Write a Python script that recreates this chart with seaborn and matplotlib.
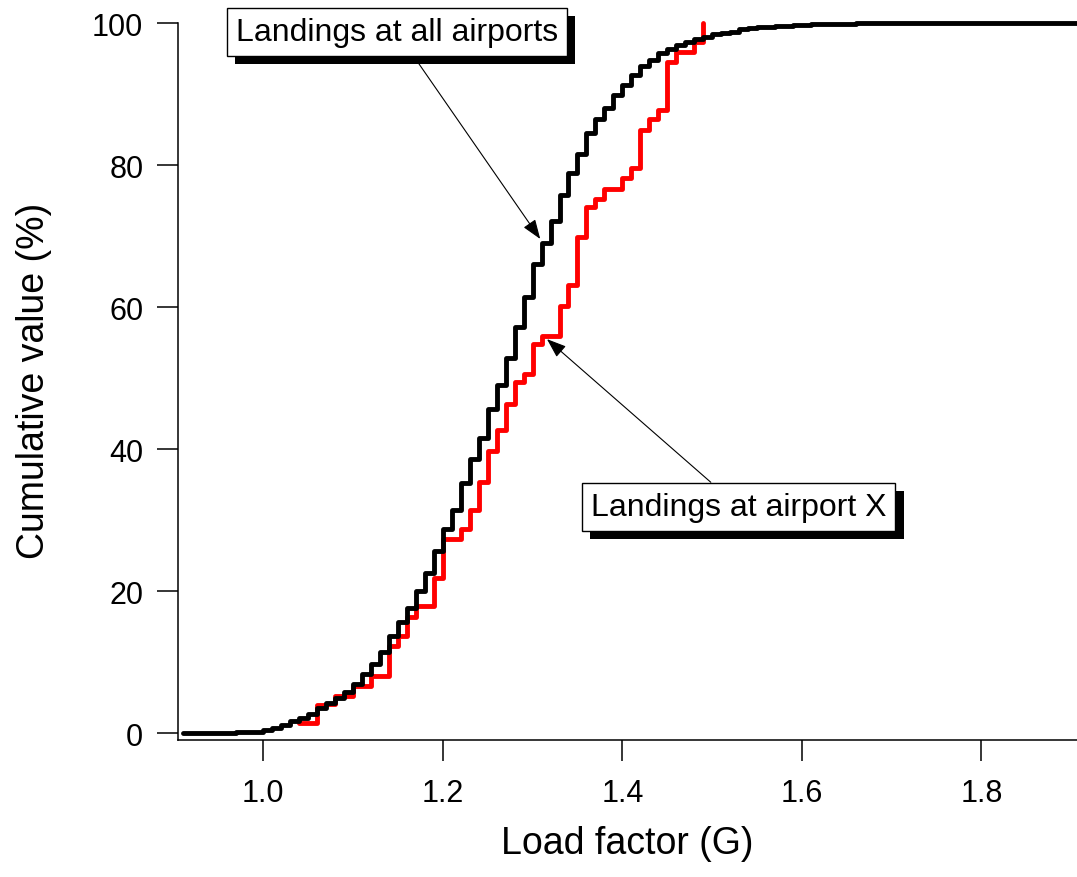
import numpy as np
import pandas as pd
import matplotlib
matplotlib.use("Agg")
import matplotlib.pyplot as plt
import matplotlib.patheffects as pe
import seaborn as sns

# ---------------- data ----------------
# black: cumulative share of landings at all airports, bin starts 0.91 ... 1.90 (step 0.01)
all_lf = np.round(np.arange(0.91, 1.915, 0.01), 2)
all_cum = [
    0.02, 0.03, 0.04, 0.05, 0.07, 0.09, 0.12, 0.16, 0.22,            # 0.91-0.99
    0.45, 0.8, 1.2, 1.7, 2.2, 2.7, 3.5, 4.2, 4.9, 5.8,              # 1.00-1.09
    6.9, 8.3, 9.8, 11.4, 13.7, 15.6, 17.6, 20.1, 22.6, 25.7,        # 1.10-1.19
    28.7, 31.5, 35.3, 38.6, 41.6, 45.7, 49.1, 52.9, 57.2, 61.4,     # 1.20-1.29
    66.1, 69.1, 72.1, 75.8, 78.9, 81.5, 84.5, 86.5, 88.0, 89.9,     # 1.30-1.39
    91.3, 92.7, 93.9, 94.8, 95.8, 96.3, 96.9, 97.4, 97.7, 98.1,     # 1.40-1.49
    98.4, 98.6, 98.8, 99.1, 99.3, 99.4, 99.5, 99.6, 99.65, 99.7,    # 1.50-1.59
    99.75, 99.8, 99.84, 99.87, 99.9, 99.92, 99.94, 99.96, 99.97, 99.98,  # 1.60-1.69
    99.99, 100, 100, 100, 100, 100, 100, 100, 100, 100,             # 1.70-1.79
    100, 100, 100, 100, 100, 100, 100, 100, 100, 100,               # 1.80-1.89
    100, 100,                                                       # 1.90, 1.91
]

# red: cumulative share of landings at airport X, bin starts 1.04 ... 1.48, then 1.49 -> 100
x_lf = np.round(np.arange(1.04, 1.495, 0.01), 2)
x_cum = [
    1.4, 1.4, 4.0, 4.1, 5.2, 5.3, 6.7, 6.7, 8.1, 8.1,               # 1.04-1.13
    12.3, 13.7, 16.4, 17.9, 17.9, 21.9,                             # 1.14-1.19
    27.4, 27.4, 28.8, 31.4, 35.4, 39.8, 42.7, 46.4, 49.5, 50.6,     # 1.20-1.29
    54.8, 56.0, 56.0, 60.2, 63.1, 69.9, 74.1, 75.2, 76.7, 76.7,     # 1.30-1.39
    78.2, 79.6, 84.9, 86.5, 87.8, 94.5, 95.9, 95.9, 97.3,           # 1.40-1.48
    100.0,                                                          # 1.49
]

x_ticks = [1.0, 1.2, 1.4, 1.6, 1.8]
y_ticks = [0, 20, 40, 60, 80, 100]

label_all = "Landings at all airports"
label_x = "Landings at airport X"

df_all = pd.DataFrame({"lf": all_lf, "cum": all_cum})
df_x = pd.DataFrame({"lf": x_lf, "cum": x_cum})

# ---------------- style ----------------
sns.set_style("ticks")
plt.rcParams["font.family"] = ["Liberation Sans", "DejaVu Sans"]

fig = plt.figure(figsize=(10.77, 8.78), dpi=100)
ax = fig.add_axes([0.1653, 0.156, 0.8347, 0.8166])

sns.lineplot(data=df_x, x="lf", y="cum", ax=ax, color="#ff0000", lw=3.5,
             drawstyle="steps-post", estimator=None, sort=False, clip_on=False, zorder=2)
sns.lineplot(data=df_all, x="lf", y="cum", ax=ax, color="black", lw=3.5,
             drawstyle="steps-post", estimator=None, sort=False, clip_on=False, zorder=3)

ax.set_xlim(0.905, 1.9065)
ax.set_ylim(-0.95, 100)
ax.set_xticks(x_ticks)
ax.set_xticklabels([f"{v:.1f}" for v in x_ticks])
ax.set_yticks(y_ticks)
ax.set_yticklabels([str(v) for v in y_ticks])

for s in ["top", "right"]:
    ax.spines[s].set_visible(False)
for s in ["left", "bottom"]:
    ax.spines[s].set_linewidth(1.1)
    ax.spines[s].set_color("black")

ax.tick_params(axis="both", direction="out", length=15, width=1.1, colors="black",
               labelsize=22)
ax.tick_params(axis="x", pad=12)
ax.tick_params(axis="y", pad=10)

ax.set_xlabel("Load factor (G)", fontsize=27, color="black")
ax.set_ylabel("Cumulative value (%)", fontsize=27, color="black")
ax.xaxis.set_label_coords(0.5, -0.143)
ax.xaxis.label.set_va("center")
ax.yaxis.set_label_coords(-0.16, 0.502)
ax.yaxis.label.set_va("center")

# ---------------- annotations with drop shadows ----------------
arrow_kw = dict(arrowstyle="-|>,head_length=0.6,head_width=0.22", color="black",
                lw=0.8, mutation_scale=20, shrinkA=0, shrinkB=0)

annots = [
    (label_all, (1.1485, 98.8), (1.3085, 69.6)),
    (label_x, (1.5297, 31.9), (1.316, 55.5)),
]
for text, pos, tip in annots:
    ann = ax.annotate(text, xy=tip, xytext=pos, ha="center", va="center", fontsize=23,
                      color="black",
                      bbox=dict(boxstyle="square,pad=0.28", fc="white", ec="black", lw=1.0),
                      arrowprops=arrow_kw, zorder=7, annotation_clip=False)
    ann.get_bbox_patch().set_path_effects([
        pe.SimplePatchShadow(offset=(6, -6), shadow_rgbFace="black", alpha=1.0),
        pe.Normal(),
    ])

fig.savefig("out.png", dpi=100)
